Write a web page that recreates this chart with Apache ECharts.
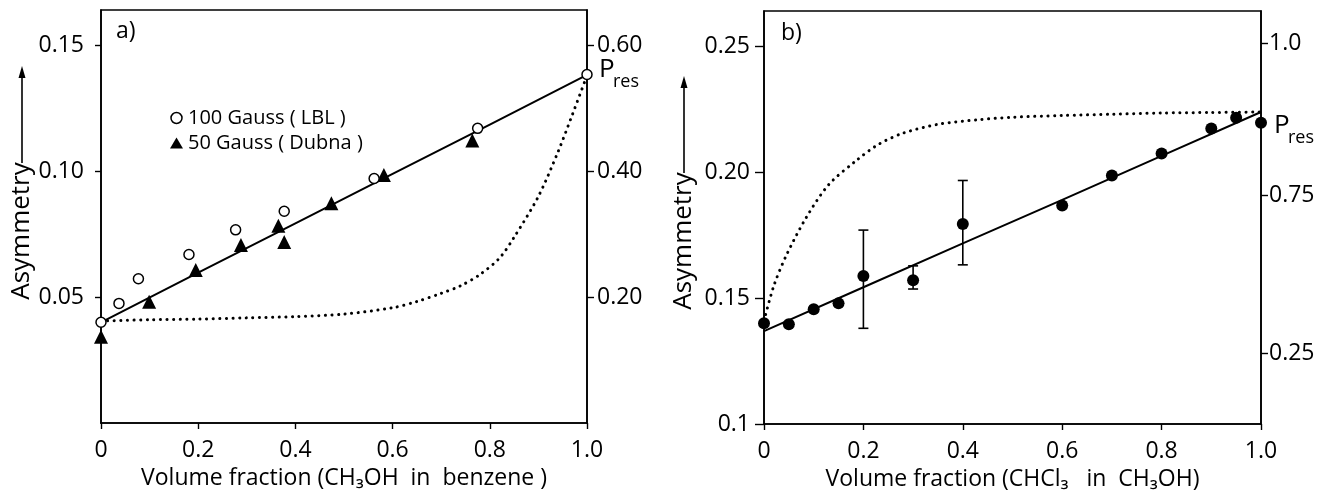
<!DOCTYPE html>
<html><head><meta charset="utf-8">
<script src="https://cdn.jsdelivr.net/npm/echarts@6/dist/echarts.min.js"></script>
<style>html,body{margin:0;padding:0;background:#fff}#c{width:1325px;height:499px}</style>
</head><body><div id="c"></div>
<script>
// ---------- Panel a) ----------
const aLBL   = [[0,0.040],[0.037,0.0475],[0.077,0.0573],[0.181,0.0669],[0.277,0.0767],[0.377,0.0841],[0.562,0.0971],[0.775,0.117],[1.0,0.1384]];
const aDubna = [[0,0.0342],[0.099,0.0481],[0.195,0.0608],[0.288,0.0707],[0.365,0.0783],[0.377,0.0719],[0.474,0.0873],[0.582,0.0985],[0.764,0.1122]];
const aFit   = [[0,0.040],[0.2,0.0597],[0.4,0.0793],[0.6,0.0989],[0.8,0.1185],[1.0,0.1382]];
const aPres  = [[0,0.162],[0.1,0.164],[0.2,0.165],[0.3,0.167],[0.4,0.169],[0.5,0.173],[0.6,0.183],[0.65,0.193],[0.7,0.206],[0.74,0.218],[0.78,0.236],[0.82,0.262],[0.85,0.295],[0.9,0.36],[0.94,0.43],[0.97,0.49],[1.0,0.552]];
const aAsymTicks = [0.05, 0.10, 0.15];
const aPresTicks = [0.20, 0.40, 0.60];
// ---------- Panel b) ----------
const bData = [[0,0.140],[0.05,0.1396],[0.1,0.1456],[0.15,0.1479],[0.2,0.1588],[0.3,0.1571],[0.4,0.1794],[0.6,0.1868],[0.7,0.1987],[0.8,0.2074],[0.9,0.2173],[0.95,0.2216],[1.0,0.2196]];
const bErr  = [[0.2,0.138,0.177],[0.3,0.1536,0.1628],[0.4,0.1632,0.1967]];
const bFit  = [[0,0.1369],[0.2,0.1543],[0.4,0.1717],[0.6,0.189],[0.8,0.2065],[1.0,0.2239]];
const bPres = [[0,0.141],[0.02,0.155],[0.045,0.167],[0.085,0.182],[0.13,0.195],[0.185,0.2045],[0.23,0.211],[0.28,0.2155],[0.35,0.219],[0.43,0.2208],[0.5,0.2218],[0.6,0.2225],[0.7,0.223],[0.8,0.2235],[0.9,0.2237],[1.0,0.2239]];
const bAsymTicks = [0.10, 0.15, 0.20, 0.25];
const bAsymLabels = ['0.1', '0.15', '0.20', '0.25'];
const bPresTickPos = [0.1282, 0.1909, 0.2511];
const bPresLabels = ['0.25', '0.75', '1.0'];

const FONT = 'Open Sans';
const BLACK = '#000';
const chart = echarts.init(document.getElementById('c'), null, {renderer:'canvas'});

function xAxisCfg(gi, name){
  return {
    type:'value', gridIndex:gi, min:0, max:1, interval:0.2,
    name:name, nameLocation:'middle', nameGap:37,
    nameTextStyle:{fontFamily:FONT, fontSize:23, color:BLACK},
    axisLine:{lineStyle:{color:BLACK, width:1.6}},
    axisTick:{show:true, length:6, lineStyle:{color:BLACK, width:1.4}},
    axisLabel:{fontFamily:FONT, fontSize:23, color:BLACK, margin:16,
      formatter: v => v === 0 ? '0' : v.toFixed(1)},
    splitLine:{show:false}
  };
}
function yAxisCfg(gi, min, max, pos, ticks, fmt, tlen, margin){
  return {
    type:'value', gridIndex:gi, min:min, max:max, position:pos,
    axisLine:{show:true, onZero:false, lineStyle:{color:BLACK, width:1.6}},
    axisTick:{show:true, length:tlen, customValues:ticks, lineStyle:{color:BLACK, width:1.4}},
    axisLabel:{fontFamily:FONT, fontSize:23, color:BLACK, margin:margin, customValues:ticks, formatter:fmt},
    splitLine:{show:false}
  };
}

const errRender = function(params, api){
  const x = api.value(0);
  const lo = api.coord([x, api.value(1)]);
  const hi = api.coord([x, api.value(2)]);
  const w = 5;
  const st = {stroke:BLACK, lineWidth:1.6};
  return {type:'group', children:[
    {type:'line', shape:{x1:lo[0], y1:lo[1], x2:hi[0], y2:hi[1]}, style:st},
    {type:'line', shape:{x1:lo[0]-w, y1:lo[1], x2:lo[0]+w, y2:lo[1]}, style:st},
    {type:'line', shape:{x1:hi[0]-w, y1:hi[1], x2:hi[0]+w, y2:hi[1]}, style:st}
  ]};
};

const dotted = {color:BLACK, width:3, type:[0.1, 6.5], cap:'round'};

const option = {
  backgroundColor:'#fff',
  animation:false,
  textStyle:{fontFamily:FONT},
  grid:[
    {left:101, right:738, top:10, bottom:76, show:true, borderColor:BLACK, borderWidth:1.6, containLabel:false},
    {left:764, right:64, top:11, bottom:75, show:true, borderColor:BLACK, borderWidth:1.6, containLabel:false}
  ],
  legend:{
    data:[
      {name:'100 Gauss ( LBL )', icon:'circle', itemStyle:{color:'#fff', borderColor:BLACK, borderWidth:1.5}},
      {name:'50 Gauss ( Dubna )', icon:'triangle', itemStyle:{color:BLACK}}
    ],
    orient:'vertical', left:165, top:103, itemGap:5, itemWidth:13, itemHeight:11,
    textStyle:{fontFamily:FONT, fontSize:20, color:BLACK}
  },
  xAxis:[
    xAxisCfg(0, 'Volume fraction (CH\u2083OH  in  benzene )'),
    xAxisCfg(1, 'Volume fraction (CHCl\u2083   in  CH\u2083OH)')
  ],
  yAxis:[
    yAxisCfg(0, 0, 0.164, 'left', aAsymTicks, v => v.toFixed(2), 6, 17),
    yAxisCfg(0, 0, 0.656, 'right', aPresTicks, v => v.toFixed(2), 7, 10),
    yAxisCfg(1, 0.1, 0.264, 'left', bAsymTicks, v => bAsymLabels[bAsymTicks.indexOf(v)], 9, 14),
    yAxisCfg(1, 0.1, 0.264, 'right', bPresTickPos, v => bPresLabels[bPresTickPos.indexOf(v)], 7, 8)
  ],
  series:[
    {type:'line', xAxisIndex:0, yAxisIndex:1, data:aPres, smooth:0.3, showSymbol:false, lineStyle:dotted, z:2},
    {type:'line', xAxisIndex:0, yAxisIndex:0, data:aFit, showSymbol:false, lineStyle:{color:BLACK, width:2}, z:3},
    {name:'50 Gauss ( Dubna )', type:'scatter', xAxisIndex:0, yAxisIndex:0, data:aDubna, symbol:'triangle', symbolSize:14,
      itemStyle:{color:BLACK, opacity:1}, clip:false, z:5},
    {name:'100 Gauss ( LBL )', type:'scatter', xAxisIndex:0, yAxisIndex:0, data:aLBL, symbol:'circle', symbolSize:10,
      itemStyle:{color:'#fff', borderColor:BLACK, borderWidth:1.5, opacity:1}, clip:false, z:6},

    {type:'line', xAxisIndex:1, yAxisIndex:2, data:bPres, smooth:0.3, showSymbol:false, lineStyle:dotted, z:2},
    {type:'line', xAxisIndex:1, yAxisIndex:2, data:bFit, showSymbol:false, lineStyle:{color:BLACK, width:2}, z:3},
    {type:'custom', xAxisIndex:1, yAxisIndex:2, data:bErr, renderItem:errRender, encode:{x:0, y:[1,2]}, clip:false, z:4},
    {type:'scatter', xAxisIndex:1, yAxisIndex:2, data:bData, symbol:'circle', symbolSize:12,
      itemStyle:{color:BLACK, opacity:1}, clip:false, z:5}
  ],
  graphic:[
    {type:'text', left:116, top:20, style:{text:'a)', font:'23px "Open Sans"', fill:BLACK}},
    {type:'text', left:781, top:22, style:{text:'b)', font:'23px "Open Sans"', fill:BLACK}},
    {type:'text', x:22, y:231, rotation:Math.PI/2, style:{text:'Asymmetry', font:'26px "Open Sans"', fill:BLACK, align:'center', verticalAlign:'middle'}},
    {type:'line', shape:{x1:22, y1:163, x2:22, y2:74}, style:{stroke:BLACK, lineWidth:1.6}},
    {type:'polygon', shape:{points:[[22,66],[18.5,78],[25.5,78]]}, style:{fill:BLACK}},
    {type:'text', x:684, y:241, rotation:Math.PI/2, style:{text:'Asymmetry', font:'26px "Open Sans"', fill:BLACK, align:'center', verticalAlign:'middle'}},
    {type:'line', shape:{x1:684, y1:173, x2:684, y2:84}, style:{stroke:BLACK, lineWidth:1.6}},
    {type:'polygon', shape:{points:[[684,76],[680.5,88],[687.5,88]]}, style:{fill:BLACK}},
    {type:'text', left:599, top:57, style:{text:'P', font:'26px "Open Sans"', fill:BLACK}},
    {type:'text', left:613, top:73, style:{text:'res', font:'18px "Open Sans"', fill:BLACK}},
    {type:'text', left:1274, top:113, style:{text:'P', font:'26px "Open Sans"', fill:BLACK}},
    {type:'text', left:1288, top:129, style:{text:'res', font:'18px "Open Sans"', fill:BLACK}}
  ]
};
chart.setOption(option);
</script></body></html>
